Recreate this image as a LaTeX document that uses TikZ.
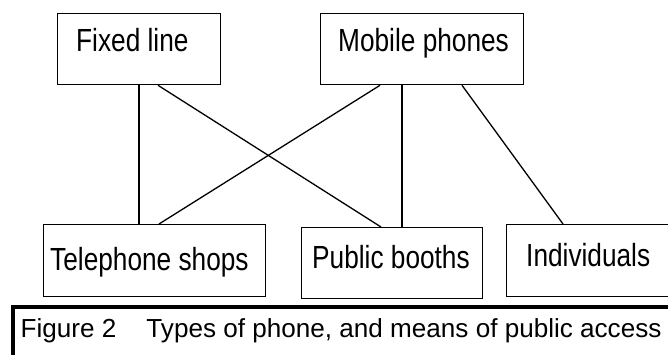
\documentclass[tikz,border=0pt]{standalone}
\usepackage{fontspec}
\setmainfont{Liberation Sans}
\newfontfamily\boxfont[FakeStretch=0.82]{Liberation Sans}
\begin{document}
\begin{tikzpicture}[x=1pt,y=-1pt,
  box/.style={draw, line width=1.3pt, rectangle, inner sep=0pt, anchor=north west},
  lbl/.style={anchor=base west, inner sep=0pt, font=\boxfont\fontsize{32}{32}\selectfont},
  link/.style={line width=1.3pt},
  captext/.style={anchor=base west, inner sep=0pt, font=\fontsize{26.1}{26.1}\selectfont}]
\useasboundingbox (0,0) rectangle (668,355);
\clip (0,0) rectangle (668,355);

% top row
\node[box, minimum width=163pt, minimum height=71pt] (fixed) at (57,13) {};
\node[lbl] (fixedt) at (76,52) {Fixed line};
\node[box, minimum width=203pt, minimum height=71pt] (mobile) at (320,13) {};
\node[lbl] (mobilet) at (338,52) {Mobile phones};

% bottom row
\node[box, minimum width=222pt, minimum height=72pt] (tel) at (43,224) {};
\node[lbl] (telt) at (50,270) {Telephone shops};
\node[box, minimum width=181pt, minimum height=71pt] (booth) at (301,227) {};
\node[lbl] (bootht) at (312,268) {Public booths};
\node[box, minimum width=170pt, minimum height=72pt] (indiv) at (506,224) {};
\node[lbl] (indivt) at (526,266) {Individuals};

% connectors
\draw[link] ([xshift=82pt]fixed.south west) -- ([xshift=96pt]tel.north west);
\draw[link] ([xshift=101pt]fixed.south west) -- ([xshift=80pt]booth.north west);
\draw[link] ([xshift=60pt]mobile.south west) -- ([xshift=116pt]tel.north west);
\draw[link] ([xshift=82pt]mobile.south west) -- ([xshift=101pt]booth.north west);
\draw[link] ([xshift=142pt]mobile.south west) -- ([xshift=57pt]indiv.north west);

% caption frame
\node[draw, line width=3.5pt, rectangle, inner sep=0pt, anchor=north west,
      minimum width=680pt, minimum height=70pt] (capbox) at (11,305) {};
\node[captext] (capt) at (20.5,337) {Figure 2\hspace{30pt}Types of phone, and means of public access};
\end{tikzpicture}
\end{document}
